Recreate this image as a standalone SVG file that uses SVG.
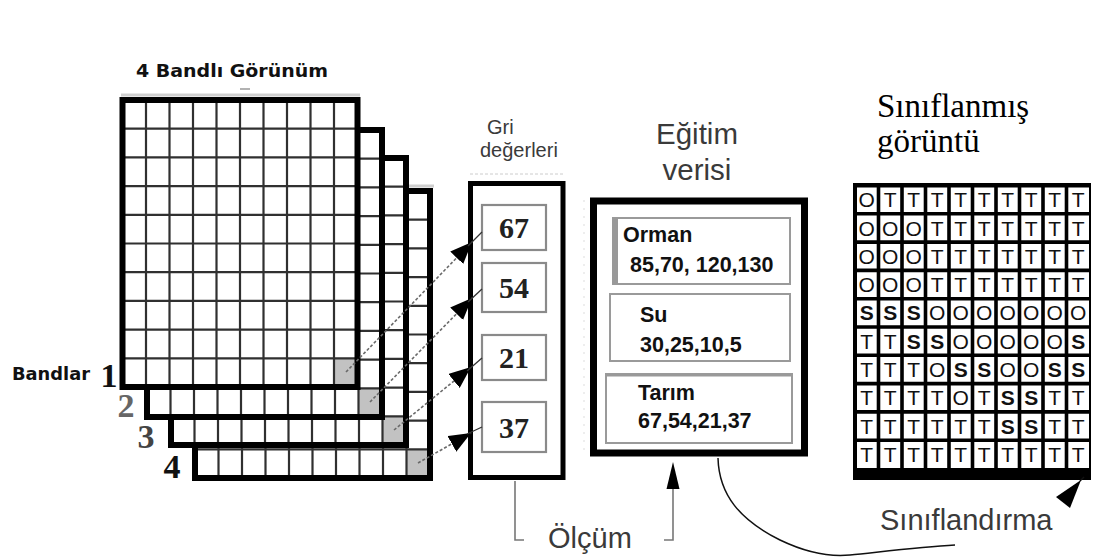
<svg xmlns="http://www.w3.org/2000/svg" width="1094" height="558" viewBox="0 0 1094 558">
  <style>
    .grid path{fill:none;stroke:#303030;stroke-width:2.2}
    .bold{font-family:"DejaVu Sans",Verdana,sans-serif;font-weight:bold;fill:#111}
    .band-no{font-family:"Liberation Serif","Times New Roman",serif;font-weight:bold;font-size:34px;text-anchor:middle}
    .hand{font-family:"Liberation Sans",Arial,sans-serif;fill:#3a3a3a}
    .serif{font-family:"Liberation Serif","Times New Roman",serif;fill:#000;font-size:33px}
    .val{font-family:"Liberation Serif","Times New Roman",serif;font-weight:bold;font-size:30px;fill:#222;text-anchor:middle}
    .vbox{fill:#fff;stroke:#8a8a8a;stroke-width:2.2}
    .sub{fill:#fff;stroke:#9a9a9a;stroke-width:2}
    .train{font-family:"Liberation Sans",Arial,sans-serif;font-weight:bold;font-size:21.5px;fill:#111}
    .cls{font-family:"Liberation Sans",Arial,sans-serif;font-size:21px;text-anchor:middle;fill:#111}
    .cls .s{font-weight:bold}
    .probe{fill:none;stroke:#6a6a6a;stroke-width:1.6;stroke-dasharray:3 2}
    .stem{stroke:#333;stroke-width:1.3}
    .bracket{fill:none;stroke:#777;stroke-width:1.6}
    .faint{stroke:#cfcfcf;stroke-width:3}
  </style>
  <defs>
    <marker id="head" viewBox="0 0 22 18" refX="22" refY="9" markerWidth="22" markerHeight="18" markerUnits="userSpaceOnUse" orient="auto">
      <path d="M0,0 L22,9 L0,18 z" fill="#000"/>
    </marker>
    <!-- one spectral band: 10 x 10 pixel grid, sample pixel in the corner -->
    <g id="band-tpl">
      <rect width="235" height="287" fill="#fff"/>
      <rect x="211.5" y="258.3" width="23.5" height="28.7" fill="#c2c2c2"/>
      <g class="grid">
        <path d="M23.5,0V287M47,0V287M70.5,0V287M94,0V287M117.5,0V287M141,0V287M164.5,0V287M188,0V287M211.5,0V287"/>
        <path d="M0,28.7H235M0,57.4H235M0,86.1H235M0,114.8H235M0,143.5H235M0,172.2H235M0,200.9H235M0,229.6H235M0,258.3H235"/>
      </g>
      <rect width="235" height="287" fill="none" stroke="#000" stroke-width="6"/>
    </g>
  </defs>

  <rect width="1094" height="558" fill="#fff"/>

  <!-- band stack -->
  <g id="bands">
    <text class="bold" x="136" y="77" font-size="17.5" textLength="192" lengthAdjust="spacingAndGlyphs">4 Bandlı Görünüm</text>
    <line x1="240" y1="89" x2="250" y2="89" stroke="#999" stroke-width="1.5"/>
    <line class="faint" x1="121" y1="95" x2="360" y2="95"/>
    <line class="faint" x1="408" y1="186" x2="434" y2="186"/>
    <g id="band-4"><use href="#band-tpl" transform="translate(195,191)"/></g>
    <g id="band-3"><use href="#band-tpl" transform="translate(171,158)"/></g>
    <g id="band-2"><use href="#band-tpl" transform="translate(147,130)"/></g>
    <g id="band-1"><use href="#band-tpl" transform="translate(122.5,100)"/></g>
    <text class="bold" x="12" y="380" font-size="17" textLength="78" lengthAdjust="spacingAndGlyphs">Bandlar</text>
    <text class="band-no" x="109" y="387" fill="#111">1</text>
    <text class="band-no" x="126" y="417" fill="#666">2</text>
    <text class="band-no" x="146" y="448" fill="#444">3</text>
    <text class="band-no" x="172" y="478" fill="#111">4</text>
  </g>

  <!-- grey values of the sample pixel -->
  <g id="grey-values">
    <text class="hand" x="487" y="134" font-size="20">Gri</text>
    <text class="hand" x="480" y="157" font-size="20">değerleri</text>
    <line x1="470" y1="174" x2="565" y2="174" stroke="#ccc" stroke-width="1" stroke-dasharray="3 2"/>
    <rect x="470.5" y="183.5" width="92.5" height="294" fill="#fff" stroke="#000" stroke-width="5"/>
    <rect class="vbox" x="482" y="205" width="64" height="45"/>
    <rect class="vbox" x="482" y="263" width="64" height="49"/>
    <rect class="vbox" x="482" y="335" width="64" height="45"/>
    <rect class="vbox" x="482" y="402" width="64" height="50"/>
    <text class="val" x="514" y="238">67</text>
    <text class="val" x="514" y="298">54</text>
    <text class="val" x="514" y="368">21</text>
    <text class="val" x="514" y="438">37</text>
  </g>

  <!-- training data -->
  <g id="training-data">
    <text class="hand" x="697" y="144" font-size="29.5" text-anchor="middle">Eğitim</text>
    <text class="hand" x="697" y="180" font-size="29.5" text-anchor="middle">verisi</text>
    <line x1="584" y1="200" x2="584" y2="455" stroke="#ddd" stroke-width="1" stroke-dasharray="2 6"/>
    <rect x="593.5" y="201" width="211" height="252" fill="#fff" stroke="#000" stroke-width="7"/>
    <rect class="sub" x="613" y="218" width="177" height="66"/>
    <line x1="615" y1="218" x2="615" y2="284" stroke="#999" stroke-width="6"/>
    <rect class="sub" x="610" y="294" width="180" height="67"/>
    <rect class="sub" x="606" y="374" width="186" height="69"/>
    <line x1="606" y1="375" x2="792" y2="375" stroke="#999" stroke-width="3"/>
    <text class="train" x="623" y="242">Orman</text>
    <text class="train" x="630" y="272">85,70, 120,130</text>
    <text class="train" x="640" y="322">Su</text>
    <text class="train" x="640" y="352">30,25,10,5</text>
    <text class="train" x="638" y="400">Tarım</text>
    <text class="train" x="638" y="428">67,54,21,37</text>
  </g>

  <!-- classified image -->
  <g id="classified">
    <text class="serif" x="877" y="117">Sınıflanmış</text>
    <text class="serif" x="877" y="152">görüntü</text>
    <rect x="853" y="183" width="238" height="297" fill="#000"/>
    <rect x="857" y="187.5" width="232" height="280.5" fill="#fff"/>
    <g fill="none" stroke="#000" stroke-width="3.6">
      <path d="M878.5,185V470M902,185V470M925.5,185V470M949,185V470M972.5,185V470M996,185V470M1019.5,185V470M1043,185V470M1066.5,185V470"/>
      <path d="M855,213.8H1090M855,242.1H1090M855,270.4H1090M855,298.7H1090M855,327H1090M855,355.3H1090M855,383.6H1090M855,411.9H1090M855,440.2H1090"/>
    </g>
    <g class="cls">
      <text y="207.2" x="866.75 890.25 913.75 937.25 960.75 984.25 1007.75 1031.25 1054.75 1078.25">OTTTTTTTTT</text>
      <text y="235.5" x="866.75 890.25 913.75 937.25 960.75 984.25 1007.75 1031.25 1054.75 1078.25">OOOTTTTTTT</text>
      <text y="263.8" x="866.75 890.25 913.75 937.25 960.75 984.25 1007.75 1031.25 1054.75 1078.25">OOOTTTTTTT</text>
      <text y="292.1" x="866.75 890.25 913.75 937.25 960.75 984.25 1007.75 1031.25 1054.75 1078.25">OOOTTTTTTT</text>
      <text y="320.4"><tspan class="s" x="866.75 890.25 913.75">SSS</tspan><tspan x="937.25 960.75 984.25 1007.75 1031.25 1054.75 1078.25">OOOOOOO</tspan></text>
      <text y="348.7"><tspan x="866.75 890.25">TT</tspan><tspan class="s" x="913.75 937.25">SS</tspan><tspan x="960.75 984.25 1007.75 1031.25 1054.75">OOOOO</tspan><tspan class="s" x="1078.25">S</tspan></text>
      <text y="377"><tspan x="866.75 890.25 913.75 937.25">TTTO</tspan><tspan class="s" x="960.75 984.25">SS</tspan><tspan x="1007.75 1031.25">OO</tspan><tspan class="s" x="1054.75 1078.25">SS</tspan></text>
      <text y="405.3"><tspan x="866.75 890.25 913.75 937.25 960.75 984.25">TTTTOT</tspan><tspan class="s" x="1007.75 1031.25">SS</tspan><tspan x="1054.75 1078.25">TT</tspan></text>
      <text y="433.6"><tspan x="866.75 890.25 913.75 937.25 960.75 984.25">TTTTTT</tspan><tspan class="s" x="1007.75 1031.25">SS</tspan><tspan x="1054.75 1078.25">TT</tspan></text>
      <text y="461.9" x="866.75 890.25 913.75 937.25 960.75 984.25 1007.75 1031.25 1054.75 1078.25">TTTTTTTTTT</text>
    </g>
  </g>

  <!-- labels under the flow -->
  <g id="measurement-label">
    <text class="hand" x="548" y="548" font-size="29">Ölçüm</text>
  </g>
  <g id="classification-label">
    <text class="hand" x="880" y="530" font-size="29">Sınıflandırma</text>
  </g>

  <!-- connectors -->
  <g id="connectors">
    <path class="probe" d="M346,372 L472,242" marker-end="url(#head)"/>
    <path class="probe" d="M370,402 L472,298" marker-end="url(#head)"/>
    <path class="probe" d="M394,430 L471,367" marker-end="url(#head)"/>
    <path class="probe" d="M418,463 L471,433" marker-end="url(#head)"/>
    <line class="stem" x1="468" y1="246" x2="482" y2="232"/>
    <line class="stem" x1="468" y1="302" x2="482" y2="289"/>
    <line class="stem" x1="467" y1="371" x2="482" y2="358"/>
    <line class="stem" x1="467" y1="434" x2="482" y2="427"/>

    <path class="bracket" d="M515,481 V540 H524"/>
    <path class="bracket" d="M664,540 H673 V486"/>
    <polygon points="673,462 666.5,489 679.5,489" fill="#000"/>

    <path d="M718,458 C719,495 740,520 780,540 C805,552 830,557 850,555 C880,552 920,547 955,545" fill="none" stroke="#111" stroke-width="1.5"/>
    <line x1="1080" y1="481" x2="1084" y2="477" stroke="#111" stroke-width="1.5"/>
    <polygon points="1081,480 1056,497 1070,508" fill="#000"/>
  </g>
</svg>
